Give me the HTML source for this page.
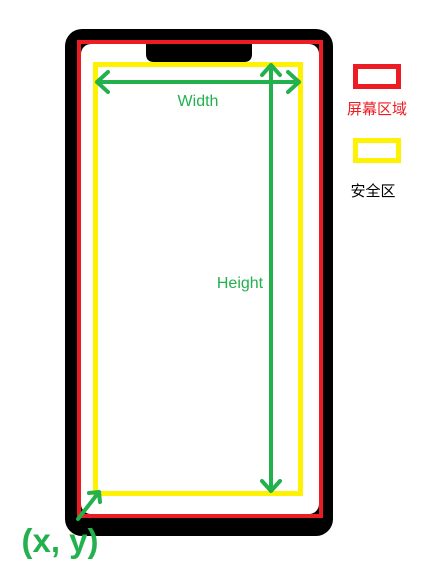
<!DOCTYPE html>
<html><head><meta charset="utf-8"><style>
html,body{margin:0;padding:0;background:#fff;width:432px;height:574px;overflow:hidden}
svg{display:block}
text{font-family:"Liberation Sans","Noto Sans CJK SC",sans-serif}
</style></head><body>
<svg width="432" height="574" viewBox="0 0 432 574">
<g>
<rect x="65" y="29" width="268" height="507" rx="17" fill="#000"/>
<rect x="77" y="40" width="246" height="478" fill="#ed1c24"/>
<rect x="81" y="44" width="238" height="470" fill="#000"/>
<rect x="81" y="44" width="238" height="470" rx="10" fill="#fff"/>
<path d="M146 44 H252 V54 Q252 62 244 62 H154 Q146 62 146 54 Z" fill="#000"/>
</g>
<rect x="95.5" y="64.5" width="205" height="429" fill="none" stroke="#fff200" stroke-width="5"/>
<g stroke="#22b14c" stroke-width="4" fill="none" stroke-linecap="round" stroke-linejoin="round">
<path d="M97 82 H299 M108 72 L97 82 L108 92 M288 72 L299 82 L288 92"/>
<path d="M271 65 V491 M262 75 L271 65 L280 75 M262 481 L271 491 L280 481"/>
<path d="M78 519 L99 492 M89 493 L99 492 L100 502"/>
</g>
<text x="198" y="106" font-size="16" fill="#22b14c" text-anchor="middle">Width</text>
<text x="240" y="288" font-size="16" fill="#22b14c" text-anchor="middle">Height</text>
<text x="60" y="552" font-size="33" font-weight="bold" fill="#22b14c" text-anchor="middle">(x, y)</text>
<g>
<rect x="355.5" y="66.5" width="43" height="20" fill="none" stroke="#ed1c24" stroke-width="5"/>
<text x="377" y="114" font-size="15" fill="#ed1c24" text-anchor="middle">屏幕区域</text>
<rect x="355.5" y="140.5" width="43" height="20" fill="none" stroke="#fff200" stroke-width="5"/>
<text x="373" y="196" font-size="15" fill="#000" text-anchor="middle">安全区</text>
</g>
</svg>
</body></html>
